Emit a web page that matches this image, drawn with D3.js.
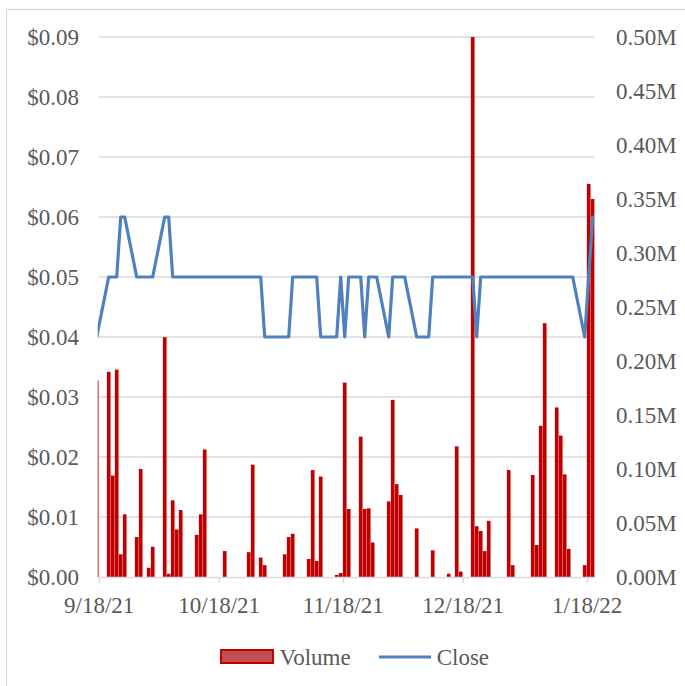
<!DOCTYPE html>
<html><head><meta charset="utf-8">
<script src="https://cdn.jsdelivr.net/npm/d3@7"></script>
<style>body{margin:0;background:#fff} svg{display:block}</style>
</head><body>
<svg id="chart" width="685" height="686"></svg>
<script>
// ---- data ----
const dates = [
"2021-09-17",
"2021-09-20","2021-09-21","2021-09-22","2021-09-23","2021-09-24",
"2021-09-27","2021-09-28","2021-09-29","2021-09-30","2021-10-01",
"2021-10-04","2021-10-05","2021-10-06","2021-10-07","2021-10-08",
"2021-10-11","2021-10-12","2021-10-13","2021-10-14","2021-10-15",
"2021-10-18","2021-10-19","2021-10-20","2021-10-21","2021-10-22",
"2021-10-25","2021-10-26","2021-10-27","2021-10-28","2021-10-29",
"2021-11-01","2021-11-02","2021-11-03","2021-11-04","2021-11-05",
"2021-11-08","2021-11-09","2021-11-10","2021-11-11","2021-11-12",
"2021-11-15","2021-11-16","2021-11-17","2021-11-18","2021-11-19",
"2021-11-22","2021-11-23","2021-11-24","2021-11-25","2021-11-26",
"2021-11-29","2021-11-30","2021-12-01","2021-12-02","2021-12-03",
"2021-12-06","2021-12-07","2021-12-08","2021-12-09","2021-12-10",
"2021-12-13","2021-12-14","2021-12-15","2021-12-16","2021-12-17",
"2021-12-20","2021-12-21","2021-12-22","2021-12-23","2021-12-24",
"2021-12-27","2021-12-28","2021-12-29","2021-12-30","2021-12-31",
"2022-01-03","2022-01-04","2022-01-05","2022-01-06","2022-01-07",
"2022-01-10","2022-01-11","2022-01-12","2022-01-13","2022-01-14",
"2022-01-17","2022-01-18","2022-01-19"];

const closePrices = [
0.04,
0.05,0.05,0.05,0.06,0.06,
0.05,0.05,0.05,0.05,0.05,
0.06,0.06,0.05,0.05,0.05,
0.05,0.05,0.05,0.05,0.05,
0.05,0.05,0.05,0.05,0.05,
0.05,0.05,0.05,0.05,0.04,
0.04,0.04,0.04,0.04,0.05,
0.05,0.05,0.05,0.05,0.04,
0.04,0.04,0.05,0.04,0.05,
0.05,0.04,0.05,0.05,0.05,
0.04,0.05,0.05,0.05,0.05,
0.04,0.04,0.04,0.04,0.05,
0.05,0.05,0.05,0.05,0.05,
0.05,0.04,0.05,0.05,0.05,
0.05,0.05,0.05,0.05,0.05,
0.05,0.05,0.05,0.05,0.05,
0.05,0.05,0.05,0.05,0.05,
0.04,0.05,0.06];

// volume in millions
const volumesM = [
0.182,
0.190,0.094,0.192,0.021,0.058,
0.037,0.100,0,0.0085,0.028,
0.222,0.003,0.071,0.044,0.062,
0,0.039,0.058,0.118,0,
0,0.024,0,0,0,
0.023,0.104,0,0.018,0.011,
0,0,0.021,0.037,0.040,
0,0.0167,0.099,0.0148,0.093,
0,0.0019,0.0037,0.180,0.063,
0.130,0.063,0.0636,0.032,0,
0.070,0.164,0.086,0.076,0,
0.045,0,0,0,0.0247,
0,0.003,0,0.121,0.005,
0.50,0.047,0.0426,0.024,0.052,
0,0,0.099,0.011,0,
0,0.0944,0.0296,0.140,0.235,
0.157,0.131,0.095,0.026,0,
0.011,0.364,0.350];

const closeTicks = [0,0.01,0.02,0.03,0.04,0.05,0.06,0.07,0.08,0.09];
const volumeTicks = [0,0.05,0.10,0.15,0.20,0.25,0.30,0.35,0.40,0.45,0.50];
const dateTicks = ["2021-09-18","2021-10-18","2021-11-18","2021-12-18","2022-01-18"];
const axisStart = "2021-09-18", axisEnd = "2022-01-20";
const seriesNames = ["Volume","Close"];

// ---- layout / style ----
const L = 98.7, R = 594.7, T = 37, B = 577;
const FONT = "'Liberation Serif','Times New Roman',serif";
const TXT = "#595959", GRID = "#d9d9d9";
const BAR = "#c00000", LINE = "#4f81bd";
const DAY = 864e5;

const parse = d3.utcParse("%Y-%m-%d");
const data = dates.map((d,i)=>({date:parse(d), close:closePrices[i], vol:volumesM[i]}));

const x = d3.scaleUtc().domain([parse(axisStart), parse(axisEnd)]).range([L, R]);
const yL = d3.scaleLinear().domain([0, 0.09]).range([B, T]);
const yR = d3.scaleLinear().domain([0, 0.5]).range([B, T]);

const svg = d3.select("#chart");

// chart border
svg.append("rect").attr("x",6.5).attr("y",9.5).attr("width",700).attr("height",700)
  .attr("fill","none").attr("stroke",GRID).attr("stroke-width",1.3);

// gridlines
svg.append("g").selectAll("line").data(closeTicks.slice(1)).join("line")
  .attr("x1",L).attr("x2",R).attr("y1",d=>yL(d)).attr("y2",d=>yL(d))
  .attr("stroke",GRID).attr("stroke-width",1.3);

// clip
svg.append("clipPath").attr("id","plotclip").append("rect")
  .attr("x",L-1).attr("y",0).attr("width",R-L+1).attr("height",B);

const plot = svg.append("g").attr("clip-path","url(#plotclip)");

// bars
plot.append("g").selectAll("rect").data(data.filter(d=>d.vol>0)).join("rect")
  .attr("x",d=>x(d.date)+0.15)
  .attr("width",d=>x(new Date(+d.date+DAY))-x(d.date)-0.3)
  .attr("y",d=>yR(d.vol))
  .attr("height",d=>B-yR(d.vol))
  .attr("fill",BAR);

// x axis
const xAxis = svg.append("g").attr("transform",`translate(0,${B})`)
  .call(d3.axisBottom(x).tickValues(dateTicks.map(parse))
    .tickFormat(d3.utcFormat("%-m/%-d/%y")).tickSize(6).tickSizeOuter(0).tickPadding(13.7));
xAxis.select(".domain").attr("stroke",GRID).attr("stroke-width",1.3);
xAxis.selectAll(".tick line").attr("stroke",GRID).attr("stroke-width",1.3);
xAxis.selectAll("text").attr("fill",TXT).style("font-family",FONT).style("font-size","23px");

// close line
const line = d3.line().x(d=>x(new Date(+d.date+DAY/2))).y(d=>yL(d.close));
plot.append("path").datum(data).attr("d",line)
  .attr("fill","none").attr("stroke",LINE).attr("stroke-width",3.2)
  .attr("stroke-linejoin","round").attr("stroke-linecap","round");

// left axis
const yAxisL = svg.append("g").attr("transform","translate(79,0)")
  .call(d3.axisLeft(yL).tickValues(closeTicks).tickFormat(d3.format("$.2f")).tickSize(0).tickPadding(0));
yAxisL.select(".domain").remove();
yAxisL.selectAll("text").attr("fill",TXT).style("font-family",FONT).style("font-size","23px");

// right axis
const yAxisR = svg.append("g").attr("transform","translate(616,0)")
  .call(d3.axisRight(yR).tickValues(volumeTicks).tickFormat(d=>d.toFixed(2)+"M").tickSize(0).tickPadding(0));
yAxisR.select(".domain").remove();
yAxisR.selectAll("text").attr("fill",TXT).style("font-family",FONT).style("font-size","23px");

// legend
const lg = svg.append("g");
lg.append("rect").attr("x",221).attr("y",650).attr("width",52).attr("height",13)
  .attr("fill","#c0504d").attr("stroke",BAR).attr("stroke-width",2);
lg.append("text").attr("x",279.5).attr("y",664.6).text(seriesNames[0])
  .attr("fill",TXT).style("font-family",FONT).style("font-size","23px");
lg.append("line").attr("x1",379).attr("x2",431).attr("y1",657).attr("y2",657)
  .attr("stroke",LINE).attr("stroke-width",3.2);
lg.append("text").attr("x",436.7).attr("y",664.6).text(seriesNames[1])
  .attr("fill",TXT).style("font-family",FONT).style("font-size","23px");
</script>
</body></html>
